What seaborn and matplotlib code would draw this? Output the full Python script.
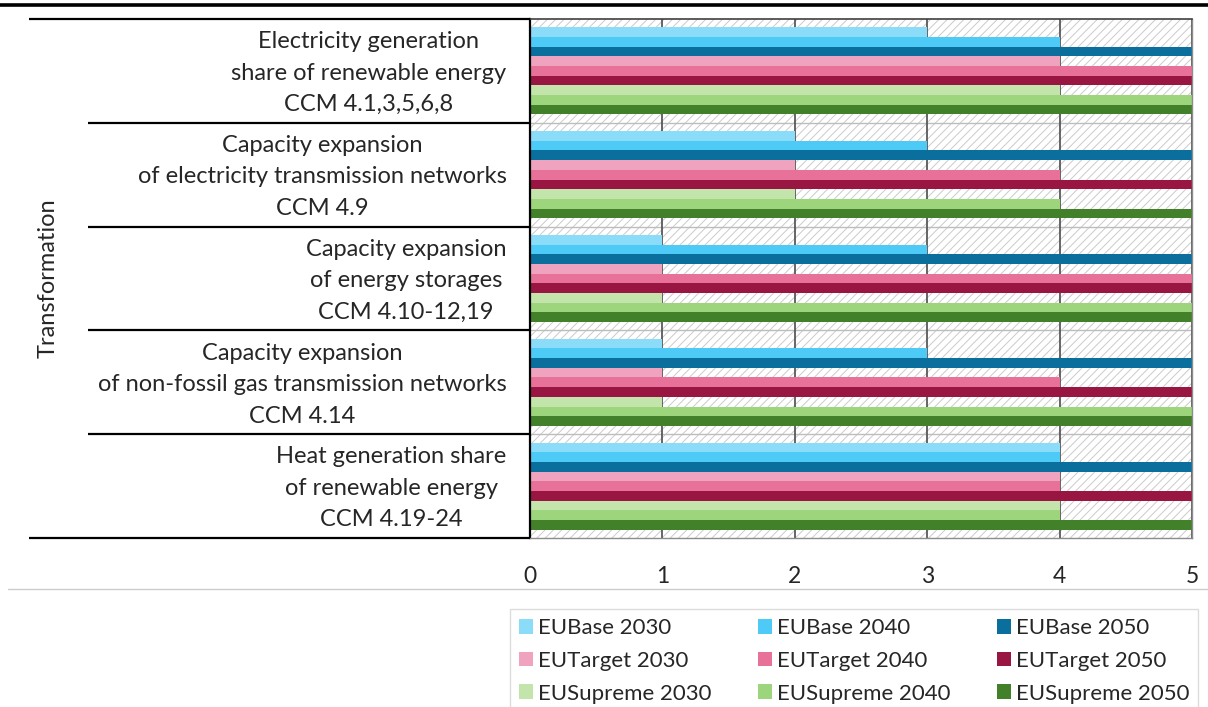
import matplotlib
matplotlib.use("Agg")
import matplotlib.pyplot as plt
from matplotlib.patches import Rectangle
from matplotlib.lines import Line2D
from matplotlib.transforms import ScaledTranslation
import pandas as pd
import seaborn as sns

# --- data -------------------------------------------------------------
measures = [
    "Electricity generation\nshare of renewable energy\nCCM 4.1,3,5,6,8",
    "Capacity expansion\nof electricity transmission networks\nCCM 4.9",
    "Capacity expansion\nof energy storages\nCCM 4.10-12,19",
    "Capacity expansion\nof non-fossil gas transmission networks\nCCM 4.14",
    "Heat generation share\nof renewable energy\nCCM 4.19-24",
]
scenarios = [
    "EUBase 2030", "EUBase 2040", "EUBase 2050",
    "EUTarget 2030", "EUTarget 2040", "EUTarget 2050",
    "EUSupreme 2030", "EUSupreme 2040", "EUSupreme 2050",
]
eubase_2030 = [3, 2, 1, 1, 4]
eubase_2040 = [4, 3, 3, 3, 4]
eubase_2050 = [5, 5, 5, 5, 5]
eutarget_2030 = [4, 2, 1, 1, 4]
eutarget_2040 = [5, 4, 5, 4, 4]
eutarget_2050 = [5, 5, 5, 5, 5]
eusupreme_2030 = [4, 2, 1, 1, 4]
eusupreme_2040 = [5, 4, 5, 5, 4]
eusupreme_2050 = [5, 5, 5, 5, 5]
x_ticks = [0, 1, 2, 3, 4, 5]
axis_title = "Transformation"

colors = [
    "#8adcf8", "#4ecaf6", "#0b6f9e",
    "#f0a3bf", "#e8719a", "#9a1642",
    "#c3e4aa", "#9dd57d", "#43802a",
]

series = [eubase_2030, eubase_2040, eubase_2050,
          eutarget_2030, eutarget_2040, eutarget_2050,
          eusupreme_2030, eusupreme_2040, eusupreme_2050]
rows = []
for name, vals in zip(scenarios, series):
    for m, v in zip(measures, vals):
        rows.append({"measure": m, "scenario": name, "score": v})
df = pd.DataFrame(rows)

# --- style ------------------------------------------------------------
sns.set_style("white")
plt.rcParams["font.family"] = ["Lato", "DejaVu Sans"]
plt.rcParams["hatch.linewidth"] = 0.7
text_color = "#262626"
label_size = 17

W, H = 1208, 707
fig = plt.figure(figsize=(W / 100, H / 100), dpi=100)
left, right, top, bottom = 530, 1192, 19, 538
ax = fig.add_axes([left / W, 1 - bottom / H, (right - left) / W, (bottom - top) / H])

# hatched plot background
ax.add_patch(Rectangle((0, 0), 1, 1, transform=ax.transAxes, facecolor="white",
                       edgecolor="#cbcbcb", hatch="////", lw=0, zorder=0.2))

sns.barplot(data=df, y="measure", x="score", hue="scenario", orient="h",
            order=measures, hue_order=scenarios, palette=colors, saturation=1,
            width=0.84, linewidth=0, ax=ax, zorder=2)

handles, labels = ax.get_legend_handles_labels()
if ax.get_legend() is not None:
    ax.get_legend().remove()

ax.set_xlim(0, 5)
ax.set_ylim(len(measures) - 0.5, -0.5)
ax.set_xticks(x_ticks)
ax.set_xticklabels([str(t) for t in x_ticks])
ax.set_xlabel("")
ax.set_ylabel(axis_title, fontsize=label_size, color=text_color)
ax.yaxis.set_label_coords((59 - left) / (right - left), 0.5)

ax.grid(axis="x", color="#595959", lw=1.3)
ax.grid(axis="y", visible=False)
ax.set_axisbelow(True)
for yb in [0.5, 1.5, 2.5, 3.5]:
    ax.axhline(yb, color="#bdbdbd", lw=1.0, zorder=0.5)

ax.tick_params(axis="x", length=0, pad=20, labelsize=16.5, labelcolor=text_color)
ax.tick_params(axis="y", length=0, pad=17, labelsize=label_size, labelcolor=text_color)
lift = ScaledTranslation(0, 5 / 100, fig.dpi_scale_trans)
for t in ax.get_yticklabels():
    t.set_multialignment("center")
    t.set_linespacing(1.62)
    t.set_transform(t.get_transform() + lift)

ax.spines["left"].set_color("black")
ax.spines["left"].set_linewidth(1.6)
ax.spines["top"].set_color("#404040")
ax.spines["top"].set_linewidth(1.2)
ax.spines["right"].set_color("#8c8c8c")
ax.spines["right"].set_linewidth(1.0)
ax.spines["bottom"].set_color("#8c8c8c")
ax.spines["bottom"].set_linewidth(1.0)

# category divider lines on the label side
span = right - left
ytr = ax.get_yaxis_transform()
for i, yb in enumerate([-0.5, 0.5, 1.5, 2.5, 3.5, 4.5]):
    x0 = (29 - left) / span if i in (0, 5) else (88 - left) / span
    ax.plot([x0, 0], [yb, yb], color="black", lw=1.6, transform=ytr,
            clip_on=False, solid_capstyle="butt", zorder=3)

# figure decorations
fig.add_artist(Line2D([0, 1], [1 - 5 / H] * 2, color="black", lw=2.6))
fig.add_artist(Line2D([8 / W, 1], [1 - 589 / H] * 2, color="#cccccc", lw=1.0))

# legend, row-wise order in three columns
order = [0, 3, 6, 1, 4, 7, 2, 5, 8]
leg = fig.legend([handles[i] for i in order], [labels[i] for i in order],
                 ncol=3, loc="upper left", bbox_to_anchor=(510 / W, 1 - 609 / H),
                 frameon=True, fancybox=False, edgecolor="#d4d4d4", fontsize=16,
                 handlelength=0.65, handleheight=0.65, handletextpad=0.2,
                 columnspacing=2.1, labelspacing=0.58, borderpad=0.4,
                 borderaxespad=0)
leg.get_frame().set_linewidth(1.0)
for t in leg.get_texts():
    t.set_color(text_color)

fig.savefig("out.png", dpi=100)
